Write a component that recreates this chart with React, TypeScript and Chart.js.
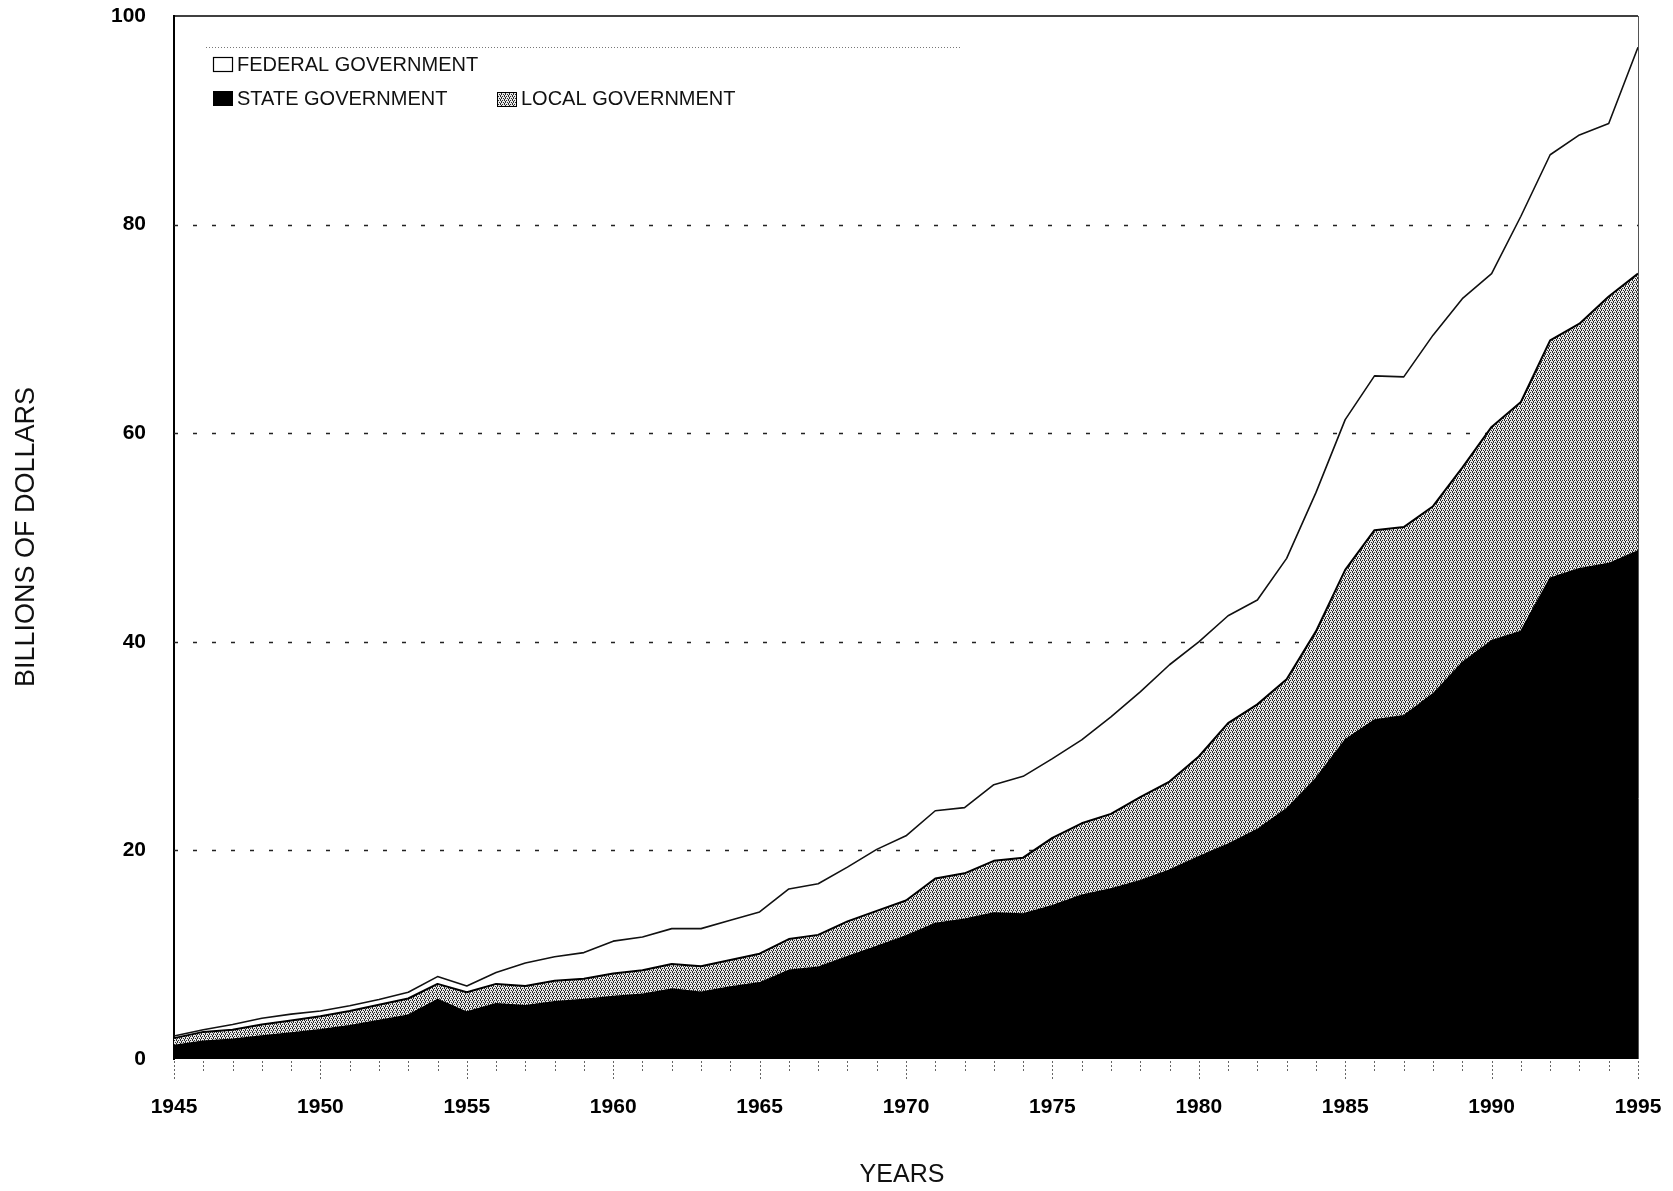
import React, { useEffect, useRef } from 'react';
import { Chart, registerables } from 'chart.js';

Chart.register(...registerables);

// Years on the x axis
const years: string[] = [
  '1945', '1946', '1947', '1948', '1949', '1950', '1951', '1952', '1953', '1954',
  '1955', '1956', '1957', '1958', '1959', '1960', '1961', '1962', '1963', '1964',
  '1965', '1966', '1967', '1968', '1969', '1970', '1971', '1972', '1973', '1974',
  '1975', '1976', '1977', '1978', '1979', '1980', '1981', '1982', '1983', '1984',
  '1985', '1986', '1987', '1988', '1989', '1990', '1991', '1992', '1993', '1994',
  '1995',
];

// Billions of dollars, stacked bottom to top: state, local, federal
const stateGov: number[] = [
  1.3, 1.7, 1.9, 2.2, 2.5, 2.8, 3.2, 3.7, 4.2, 5.7,
  4.5, 5.3, 5.1, 5.5, 5.7, 6.0, 6.2, 6.7, 6.4, 6.9,
  7.3, 8.5, 8.8, 9.8, 10.8, 11.8, 13.0, 13.4, 14.0, 13.9,
  14.7, 15.7, 16.3, 17.1, 18.1, 19.4, 20.6, 22.0, 24.0, 26.9,
  30.6, 32.5, 32.9, 35.0, 38.0, 40.1, 41.0, 46.1, 47.0, 47.5,
  48.7,
];

const localGov: number[] = [
  0.7, 0.9, 0.9, 1.1, 1.2, 1.3, 1.4, 1.5, 1.6, 1.5,
  1.9, 1.9, 1.9, 2.0, 2.0, 2.2, 2.3, 2.4, 2.5, 2.6,
  2.8, 3.0, 3.1, 3.4, 3.4, 3.4, 4.3, 4.4, 5.0, 5.4,
  6.5, 6.9, 7.2, 8.0, 8.5, 9.6, 11.6, 12.0, 12.4, 14.1,
  16.3, 18.2, 18.1, 18.0, 18.7, 20.5, 22.0, 22.8, 23.5, 25.6,
  26.6,
];

const federalGov: number[] = [
  0.2, 0.2, 0.5, 0.6, 0.6, 0.5, 0.5, 0.5, 0.6, 0.7,
  0.6, 1.1, 2.2, 2.3, 2.5, 3.1, 3.2, 3.4, 3.6, 3.8,
  4.0, 4.8, 4.9, 5.2, 5.9, 6.2, 6.5, 6.3, 7.3, 7.8,
  7.6, 8.0, 9.3, 10.1, 11.2, 11.0, 10.3, 10.0, 11.6, 13.3,
  14.4, 14.8, 14.4, 16.4, 16.2, 14.7, 17.8, 17.8, 18.1, 16.6,
  21.7,
];

const xTickLabels: string[] = ['1945', '1950', '1955', '1960', '1965', '1970', '1975', '1980', '1985', '1990', '1995'];
const yGridValues: number[] = [20, 40, 60, 80];

const legendFederal = 'FEDERAL GOVERNMENT';
const legendState = 'STATE GOVERNMENT';
const legendLocal = 'LOCAL GOVERNMENT';
const yTitle = 'BILLIONS OF DOLLARS';
const xTitle = 'YEARS';

const FONT = "'Liberation Sans', Arial, Helvetica, sans-serif";

function makePattern(ctx: CanvasRenderingContext2D): CanvasPattern | string {
  const tile = document.createElement('canvas');
  tile.width = 4;
  tile.height = 4;
  const t = tile.getContext('2d');
  if (!t) return '#a0a0a0';
  t.fillStyle = '#e8e8e8';
  t.fillRect(0, 0, 4, 4);
  t.fillStyle = '#2a2a2a';
  const dots = [[0, 0], [2, 0], [1, 1], [3, 2], [1, 2], [0, 3]];
  dots.forEach(([x, y]) => t.fillRect(x, y, 1, 1));
  const p = ctx.createPattern(tile, 'repeat');
  return p || '#a0a0a0';
}

export default function App() {
  const ref = useRef<HTMLCanvasElement>(null);

  useEffect(() => {
    const canvas = ref.current;
    if (!canvas) return;
    const ctx = canvas.getContext('2d');
    if (!ctx) return;
    const pattern = makePattern(ctx);

    const decorations = {
      id: 'decorations',
      beforeDatasetsDraw(chart: any) {
        const c = chart.ctx as CanvasRenderingContext2D;
        const { left, right } = chart.chartArea;
        const y = chart.scales.y;
        c.save();
        c.strokeStyle = '#222';
        c.lineWidth = 1.5;
        c.setLineDash([4, 15]);
        yGridValues.forEach((v) => {
          const py = Math.round(y.getPixelForValue(v)) + 0.5;
          c.beginPath();
          c.moveTo(left, py);
          c.lineTo(right, py);
          c.stroke();
        });
        c.restore();
      },
      afterDraw(chart: any) {
        const c = chart.ctx as CanvasRenderingContext2D;
        const { left, right, top, bottom } = chart.chartArea;
        const x = chart.scales.x;
        c.save();
        // top and right frame
        c.strokeStyle = '#000';
        c.lineWidth = 1.5;
        c.beginPath();
        c.moveTo(left, top);
        c.lineTo(right, top);
        c.stroke();
        c.strokeStyle = '#555';
        c.lineWidth = 1;
        c.beginPath();
        c.moveTo(right + 0.5, top);
        c.lineTo(right + 0.5, bottom);
        c.stroke();

        // minor year ticks below the axis
        c.strokeStyle = '#666';
        c.lineWidth = 1;
        c.setLineDash([2, 2]);
        years.forEach((yr, i) => {
          const px = Math.round(x.getPixelForValue(i)) + 0.5;
          const major = xTickLabels.includes(yr);
          c.beginPath();
          c.moveTo(px, bottom + 2);
          c.lineTo(px, bottom + (major ? 22 : 12));
          c.stroke();
        });

        // dotted line above legend
        c.strokeStyle = '#777';
        c.setLineDash([1, 2]);
        c.beginPath();
        c.moveTo(206, 47.5);
        c.lineTo(960, 47.5);
        c.stroke();
        c.setLineDash([]);

        // legend
        c.font = `20px ${FONT}`;
        c.textBaseline = 'middle';
        c.textAlign = 'left';
        // federal box
        c.fillStyle = '#fff';
        c.fillRect(213, 57, 19, 14);
        c.strokeStyle = '#000';
        c.lineWidth = 1.2;
        c.strokeRect(213.5, 57.5, 19, 14);
        c.fillStyle = '#111';
        c.fillText(legendFederal, 237, 65);
        // state box
        c.fillStyle = '#000';
        c.fillRect(213, 91, 20, 15);
        c.fillStyle = '#111';
        c.fillText(legendState, 237, 99);
        // local box
        c.fillStyle = pattern as any;
        c.fillRect(497, 92, 19, 14);
        c.strokeStyle = '#000';
        c.lineWidth = 1;
        c.strokeRect(497.5, 92.5, 19, 14);
        c.fillStyle = '#111';
        c.fillText(legendLocal, 521, 99);

        // axis titles
        c.fillStyle = '#111';
        c.textAlign = 'center';
        c.textBaseline = 'middle';
        c.font = `25px ${FONT}`;
        c.fillText(xTitle, 902, 1175);
        c.font = `27px ${FONT}`;
        c.translate(27, 537);
        c.rotate(-Math.PI / 2);
        c.fillText(yTitle, 0, 0);
        c.restore();
      },
    };

    const chart = new Chart(canvas, {
      type: 'line',
      data: {
        labels: years,
        datasets: [
          {
            label: legendState,
            data: stateGov,
            backgroundColor: '#000',
            borderColor: '#000',
            borderWidth: 1.5,
            fill: 'origin',
            pointRadius: 0,
            tension: 0,
          },
          {
            label: legendLocal,
            data: localGov,
            backgroundColor: pattern as any,
            borderColor: '#000',
            borderWidth: 2,
            fill: '-1',
            pointRadius: 0,
            tension: 0,
          },
          {
            label: legendFederal,
            data: federalGov,
            backgroundColor: 'rgba(255,255,255,0)',
            borderColor: '#111',
            borderWidth: 1.6,
            fill: false,
            pointRadius: 0,
            tension: 0,
          },
        ],
      },
      options: {
        animation: false,
        responsive: false,
        devicePixelRatio: 1,
        layout: { padding: { left: 0, right: 35, top: 16, bottom: 0 } },
        plugins: {
          legend: { display: false },
          tooltip: { enabled: false },
          title: { display: false },
        },
        elements: { line: { borderJoinStyle: 'round' } },
        scales: {
          x: {
            type: 'category',
            offset: false,
            grid: { display: false, drawTicks: false },
            border: { display: false },
            ticks: {
              autoSkip: false,
              maxRotation: 0,
              minRotation: 0,
              padding: 36,
              color: '#000',
              font: { family: FONT, size: 21, weight: 'bold' },
              callback: (_v: any, i: number) => (xTickLabels.includes(years[i]) ? years[i] : ''),
            },
            afterFit: (scale: any) => {
              scale.height = 132;
              scale.paddingLeft = 0;
              scale.paddingRight = 0;
            },
          },
          y: {
            stacked: true,
            min: 0,
            max: 100,
            grid: { drawOnChartArea: false, drawTicks: false },
            border: { display: true, color: '#000', width: 2 },
            ticks: {
              stepSize: 20,
              padding: 28,
              color: '#000',
              font: { family: FONT, size: 21, weight: 'bold' },
            },
            afterFit: (scale: any) => {
              scale.width = 174;
              scale.paddingTop = 0;
              scale.paddingBottom = 0;
            },
          },
        },
      },
      plugins: [decorations],
    });

    return () => chart.destroy();
  }, []);

  return (
    <div style={{ position: 'fixed', left: 0, top: 0, width: 1673, height: 1191, background: '#fff' }}>
      <canvas ref={ref} width={1673} height={1191} style={{ display: 'block', width: 1673, height: 1191 }} />
    </div>
  );
}
